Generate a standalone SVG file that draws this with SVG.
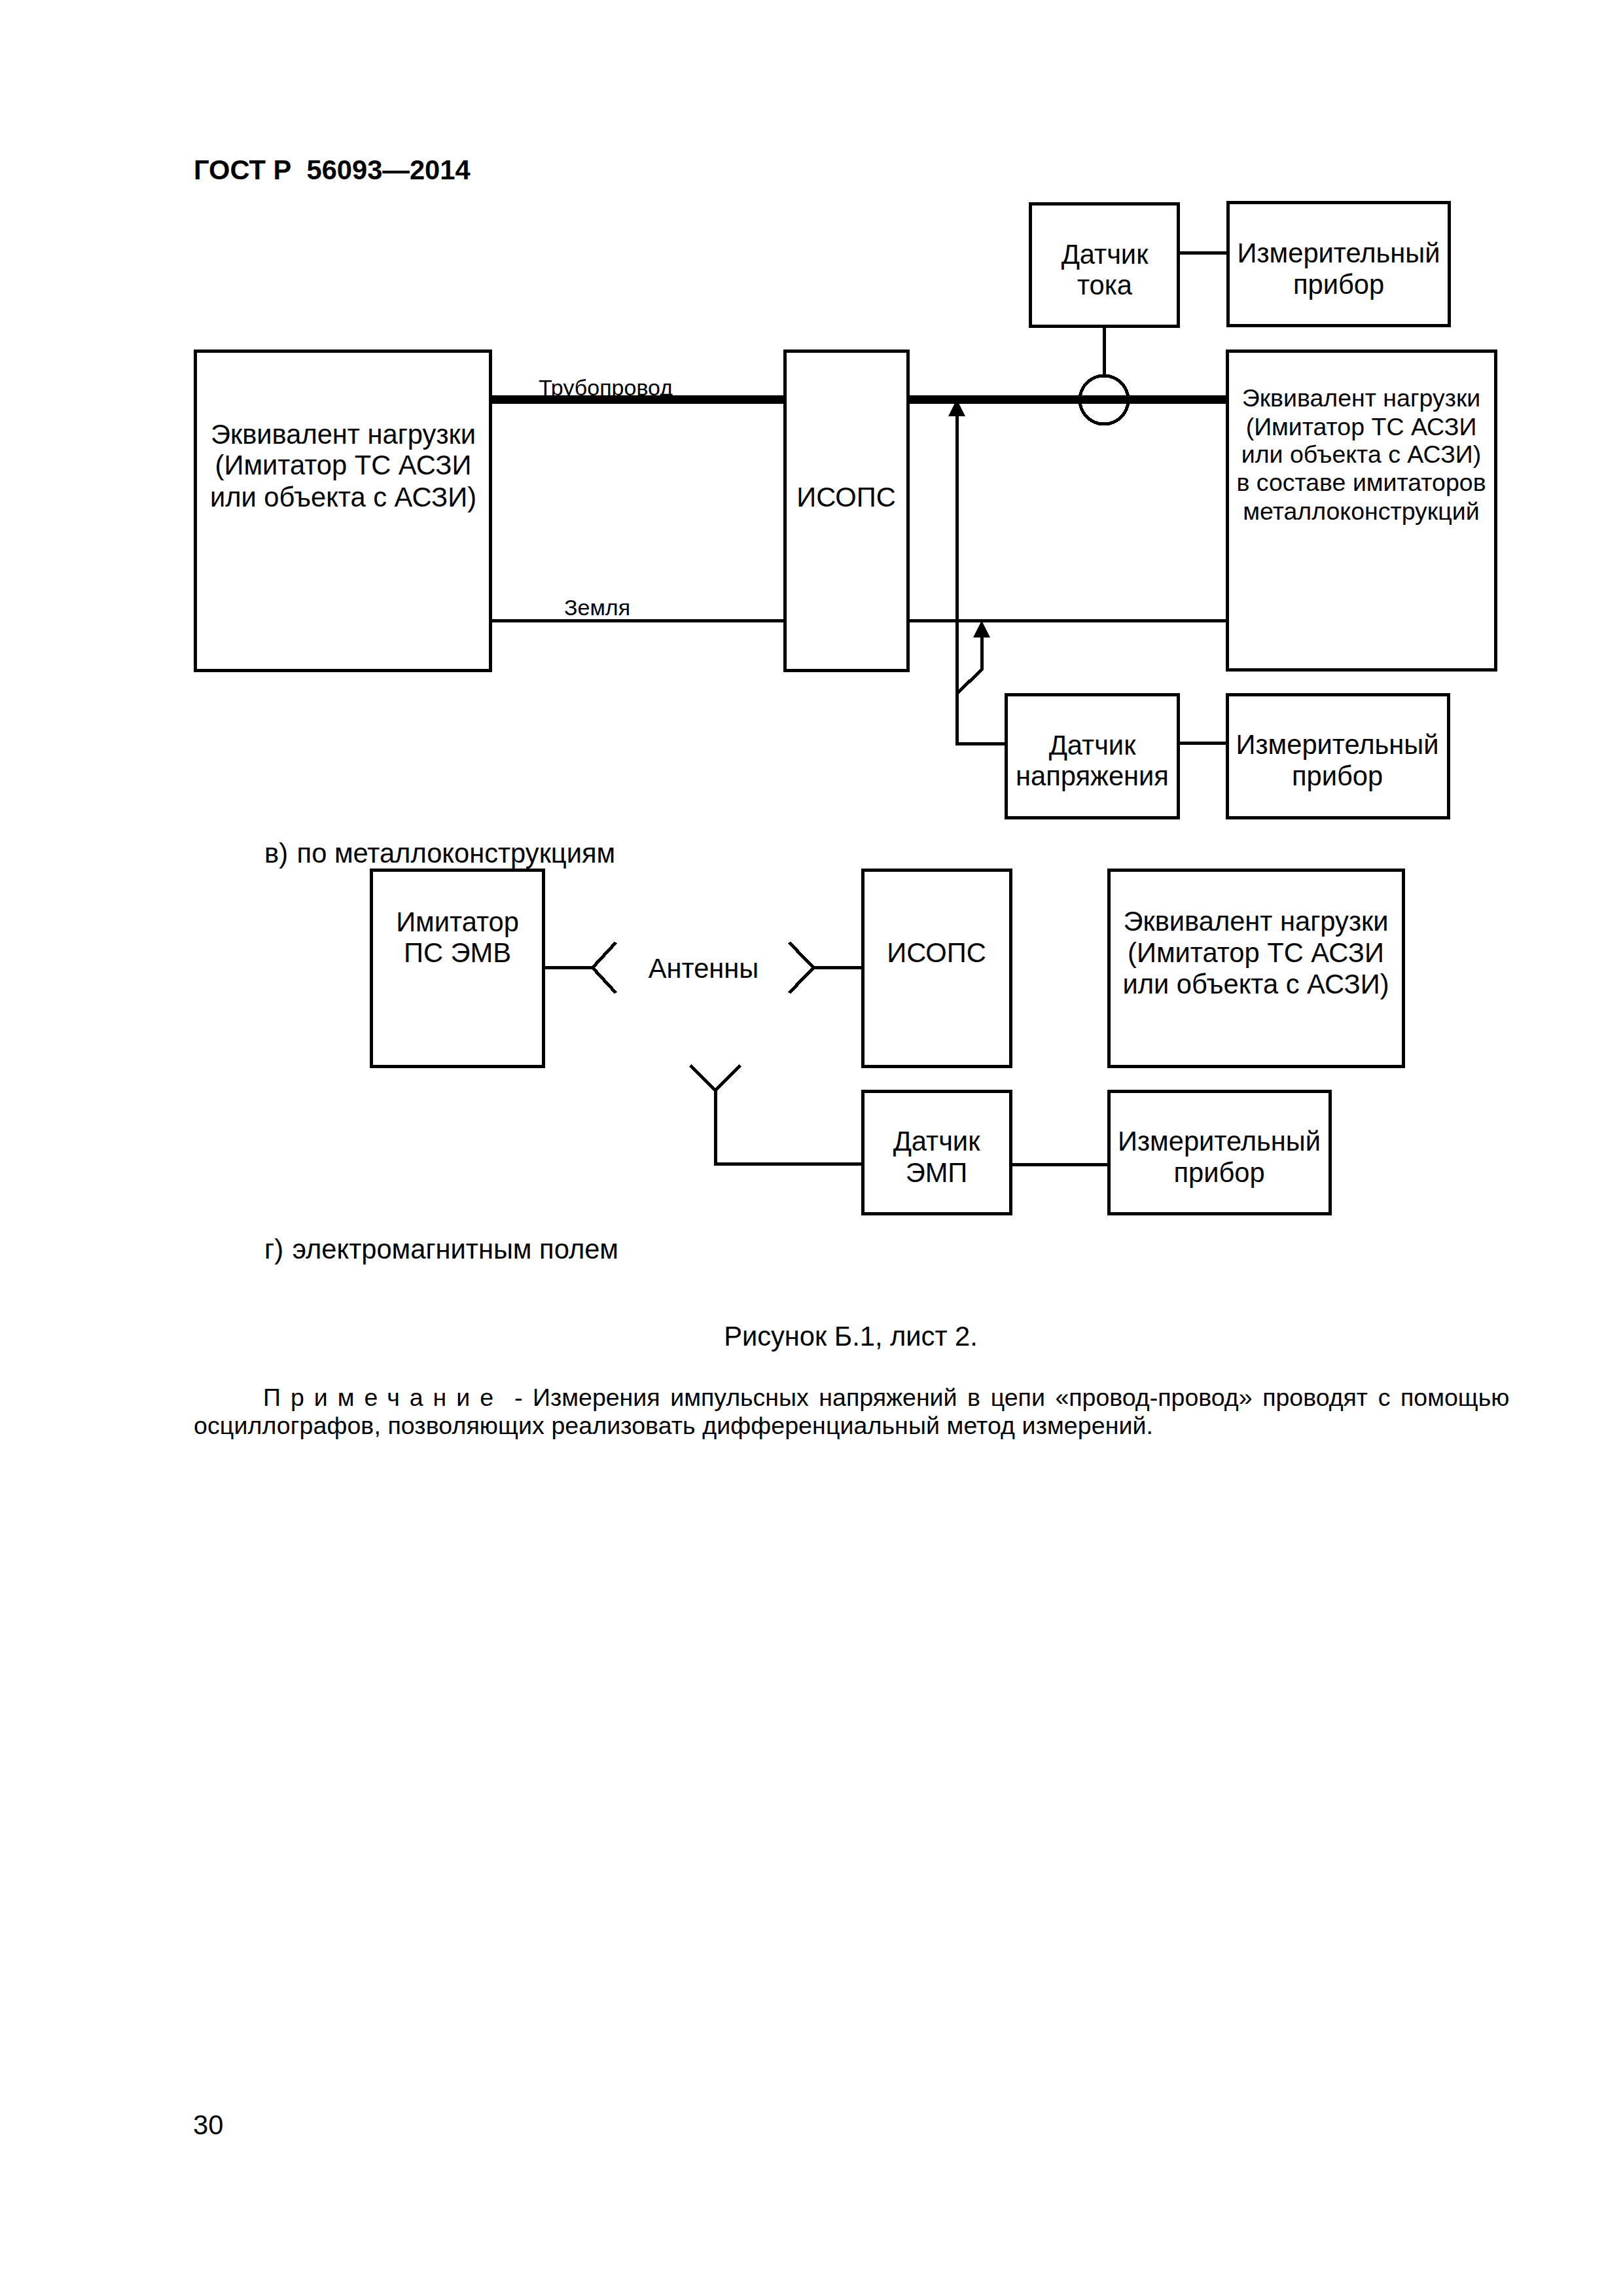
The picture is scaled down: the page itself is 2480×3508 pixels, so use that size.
<svg xmlns="http://www.w3.org/2000/svg" width="2480" height="3508" viewBox="0 0 2480 3508">
<style>
text{font-family:"Liberation Sans",Arial,sans-serif;fill:#000}
.t{font-size:41.67px;text-anchor:middle}
.s{font-size:37.5px;text-anchor:middle}
.l{font-size:34px}
.p{font-size:41.67px}
.n{font-size:37.5px}
.h{font-size:41.67px;font-weight:bold}
rect,circle{fill:none;stroke:#000;stroke-width:5;shape-rendering:crispEdges}
.c path{fill:none;stroke:#000;stroke-width:5;shape-rendering:crispEdges}
.c path.thick{stroke-width:13}
</style>
<defs>
<marker id="arrow" markerUnits="userSpaceOnUse" markerWidth="26" markerHeight="26" refX="0" refY="13" orient="auto" viewBox="0 0 26 26"><path d="M0 0L26 13L0 26Z" fill="#000"/></marker>
</defs>
<rect x="0" y="0" width="2480" height="3508" style="fill:#fff;stroke:none"/>
<g id="page-text">
<text class="h" x="296" y="274" xml:space="preserve">ГОСТ Р  56093—2014</text>
<text class="p" x="404" y="1318">в)<tspan dx="2"> по металлоконструкциям</tspan></text>
<text class="p" x="404" y="1923">г)<tspan dx="2"> электромагнитным полем</tspan></text>
<text class="t" x="1300" y="2056">Рисунок Б.1, лист 2.</text>
<text class="n" x="402" y="2148" letter-spacing="15">Примечание</text>
<text class="n" x="786" y="2148" word-spacing="5.2">- Измерения импульсных напряжений в цепи «провод-провод» проводят с помощью</text>
<text class="n" x="296" y="2191" letter-spacing="0.1">осциллографов, позволяющих реализовать дифференциальный метод измерений.</text>
<text class="p" x="295" y="3261">30</text>
<text class="l" x="823" y="604">Трубопровод</text>
<text class="l" x="862" y="940">Земля</text>
</g>
<g id="connectors" class="c">
<path class="thick" d="M749 610.5H1199"/>
<path class="thick" d="M1387 610.5H1875"/>
<path d="M749 948H1199"/>
<path d="M1387 948H1875"/>
<path d="M1800 386H1876"/>
<path d="M1687 498V573"/>
<path d="M1537 1136H1462V636" marker-end="url(#arrow)"/>
<path d="M1462 1060L1500 1023V974" marker-end="url(#arrow)"/>
<path d="M1800 1135H1875"/>
<path d="M830 1478.5H905.5M941 1440L905.5 1478.5L941 1517"/>
<path d="M1318 1478.5H1243M1206 1440L1243 1478.5L1206 1517"/>
<path d="M1318 1778.5H1093V1666M1055 1628L1093 1666L1131 1628"/>
<path d="M1544 1779H1694"/>
</g>
<g id="load-left"><rect x="298.5" y="536" width="450.5" height="488"/>
<text class="t" x="524.5" y="678">Эквивалент нагрузки</text><text class="t" x="524.5" y="725">(Имитатор ТС АСЗИ</text><text class="t" x="524.5" y="774">или объекта с АСЗИ)</text></g>
<g id="isops-1"><rect x="1199" y="536" width="188" height="488"/><text class="t" x="1293" y="774">ИСОПС</text></g>
<g id="current-sensor"><rect x="1574" y="311" width="226" height="187"/><text class="t" x="1688" y="403">Датчик</text><text class="t" x="1688" y="450">тока</text></g>
<g id="meter-1"><rect x="1876" y="309" width="338" height="188"/><text class="t" x="2045.5" y="401">Измерительный</text><text class="t" x="2045.5" y="449">прибор</text></g>
<g id="current-loop"><circle cx="1687" cy="611" r="37"/></g>
<g id="load-right"><rect x="1875" y="536" width="410" height="487.5"/>
<text class="s" x="2080" y="621">Эквивалент нагрузки</text><text class="s" x="2080" y="665">(Имитатор ТС АСЗИ</text><text class="s" x="2080" y="707">или объекта с АСЗИ)</text><text class="s" x="2080" y="750">в составе имитаторов</text><text class="s" x="2080" y="794">металлоконструкций</text></g>
<g id="voltage-sensor"><rect x="1537" y="1061" width="263" height="188"/><text class="t" x="1669" y="1153">Датчик</text><text class="t" x="1669" y="1200">напряжения</text></g>
<g id="meter-2"><rect x="1875" y="1061" width="338" height="188"/><text class="t" x="2043.5" y="1152">Измерительный</text><text class="t" x="2043.5" y="1200">прибор</text></g>
<g id="emc-simulator"><rect x="567.5" y="1329" width="263" height="300"/><text class="t" x="699" y="1423">Имитатор</text><text class="t" x="699" y="1470">ПС ЭМВ</text></g>
<g id="antennas-label"><text class="t" x="1075" y="1494">Антенны</text></g>
<g id="isops-2"><rect x="1318" y="1329" width="226" height="300"/><text class="t" x="1431" y="1470">ИСОПС</text></g>
<g id="load-3"><rect x="1694" y="1329" width="450" height="300"/><text class="t" x="1919" y="1422">Эквивалент нагрузки</text><text class="t" x="1919" y="1470">(Имитатор ТС АСЗИ</text><text class="t" x="1919" y="1518">или объекта с АСЗИ)</text></g>
<g id="emf-sensor"><rect x="1318" y="1667" width="226" height="187"/><text class="t" x="1431" y="1758">Датчик</text><text class="t" x="1431" y="1806">ЭМП</text></g>
<g id="meter-3"><rect x="1694" y="1667" width="338" height="187"/><text class="t" x="1863" y="1758">Измерительный</text><text class="t" x="1863" y="1806">прибор</text></g>
</svg>
